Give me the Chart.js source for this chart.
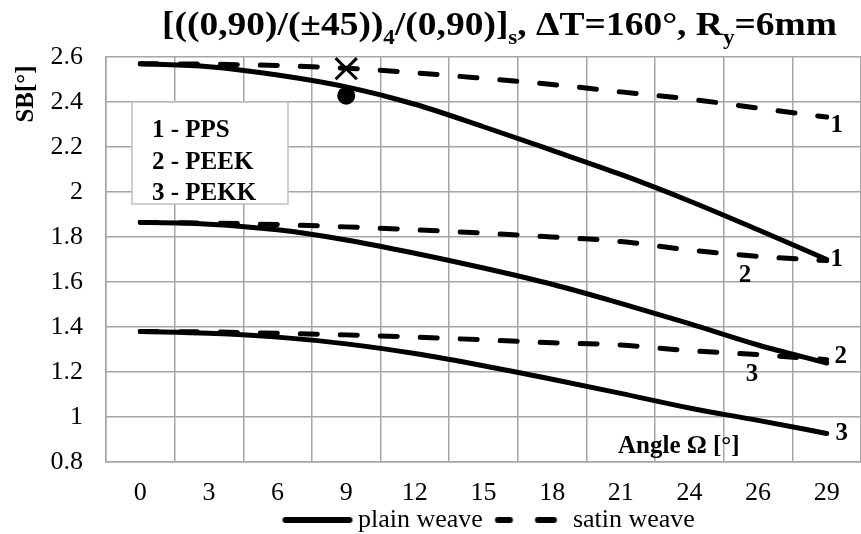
<!DOCTYPE html>
<html>
<head>
<meta charset="utf-8">
<script src="https://cdn.jsdelivr.net/npm/chart.js@4.4.1/dist/chart.umd.min.js"></script>
<style>
html,body{margin:0;padding:0;background:#fff;}
#wrap{width:861px;height:534px;position:relative;}
</style>
</head>
<body>
<div id="wrap"><canvas id="c" width="861" height="534"></canvas></div>
<script>
// ---- data ----
const categories = ['0','3','6','9','12','15','18','21','24','26','29'];
const plainPPS  = [2.57, 2.557, 2.52, 2.467, 2.39, 2.29, 2.185, 2.078, 1.96, 1.832, 1.70];
const satinPPS  = [2.57, 2.568, 2.562, 2.55, 2.53, 2.505, 2.478, 2.445, 2.413, 2.373, 2.333];
const plainPEEK = [1.865, 1.857, 1.832, 1.787, 1.728, 1.662, 1.59, 1.505, 1.415, 1.32, 1.24];
const satinPEEK = [1.865, 1.862, 1.855, 1.845, 1.832, 1.817, 1.80, 1.78, 1.742, 1.714, 1.695];
const plainPEKK = [1.38, 1.372, 1.355, 1.325, 1.282, 1.228, 1.168, 1.105, 1.04, 0.985, 0.927];
const satinPEKK = [1.38, 1.378, 1.372, 1.365, 1.355, 1.343, 1.33, 1.32, 1.295, 1.277, 1.255];
const crossMark = [null, null, null, 2.548, null, null, null, null, null, null, null];
const dotMark   = [null, null, null, 2.428, null, null, null, null, null, null, null];
const yTicks = {min: 0.8, max: 2.6, step: 0.2};
const seriesNames = ['plain weave', 'satin weave'];
const materialLabels = ['1 - PPS', '2 - PEEK', '3 - PEKK'];
const titleParts = [
  ['[((0,90)/(±45))', false], ['4', true], ['/(0,90)]', false], ['s', true],
  [', ΔT=160°, R', false], ['y', true], ['=6mm', false]
];
const yTitle = 'SB[°]';
const xTitle = 'Angle Ω [°]';
// curve end labels: [text, categoryIndex, value, dx, dy]
const curveLabels = [
  ['1', 10, 2.333, 10, 8],
  ['1', 10, 1.70, 10, 0],
  ['2', 9, 1.714, -13, 19],
  ['2', 10, 1.24, 14, -6],
  ['3', 9, 1.277, -6, 20],
  ['3', 10, 0.927, 15, 0]
];

const SERIF = '"Liberation Serif", "Times New Roman", serif';

function lineSample(dashed){
  const c = document.createElement('canvas');
  c.width = 80; c.height = 10;
  const g = c.getContext('2d');
  g.strokeStyle = '#000'; g.lineWidth = 6; g.lineCap = 'round';
  g.beginPath();
  if (!dashed) { g.moveTo(8, 5); g.lineTo(72, 5); }
  else { g.moveTo(5.5, 5); g.lineTo(17.5, 5); g.moveTo(45.5, 5); g.lineTo(61.5, 5); }
  g.stroke();
  return c;
}
const solidImg = lineSample(false);
const dashImg = lineSample(true);

function lineDs(label, data, dashed){
  return {
    label, data,
    borderColor: '#000', backgroundColor: '#000',
    borderWidth: 5,
    borderDash: dashed ? [17, 23] : [],
    borderCapStyle: 'round', borderJoinStyle: 'round',
    pointRadius: 0, pointHoverRadius: 0,
    cubicInterpolationMode: 'monotone',
    fill: false
  };
}

const annot = {
  id: 'annot',
  beforeLayout(chart){
    const lg = chart.legend;
    if (lg && !lg._patched) {
      const orig = lg.fit.bind(lg);
      lg.fit = function(){ orig(); this.height = 24; };
      lg._patched = true;
    }
  },
  afterLayout(chart){
    const lg = chart.legend;
    lg.left = 268;
    lg.top = 485;
  },
  beforeDatasetsDraw(chart){
    const ctx = chart.ctx;
    ctx.save();
    ctx.fillStyle = '#fff';
    ctx.strokeStyle = '#c0c0c0';
    ctx.lineWidth = 1.5;
    ctx.fillRect(132, 102, 156, 102);
    ctx.strokeRect(132, 102, 156, 102);
    ctx.fillStyle = '#000';
    ctx.font = 'bold 25px ' + SERIF;
    ctx.textBaseline = 'middle';
    ctx.textAlign = 'left';
    materialLabels.forEach((t, i) => ctx.fillText(t, 152, 131 + i * 31.5));
    ctx.restore();
  },
  afterDraw(chart){
    const ctx = chart.ctx;
    const xs = chart.scales.x, ys = chart.scales.y;
    ctx.save();
    ctx.fillStyle = '#000';
    // title with subscripts
    const mainF = 'bold 34px ' + SERIF, subF = 'bold 21px ' + SERIF;
    let w = 0;
    titleParts.forEach(([t, sub]) => { ctx.font = sub ? subF : mainF; w += ctx.measureText(t).width; });
    const targetW = 675, sx = targetW / w;
    ctx.save();
    ctx.translate(499.5 - targetW / 2, 0);
    ctx.scale(sx, 1);
    let x = 0;
    ctx.textBaseline = 'alphabetic';
    ctx.textAlign = 'left';
    titleParts.forEach(([t, sub]) => {
      ctx.font = sub ? subF : mainF;
      ctx.fillText(t, x, sub ? 44 : 35);
      x += ctx.measureText(t).width;
    });
    ctx.restore();
    // y title
    ctx.save();
    ctx.translate(27, 94);
    ctx.rotate(-Math.PI / 2);
    ctx.font = 'bold 25px ' + SERIF;
    ctx.textAlign = 'center';
    ctx.textBaseline = 'middle';
    ctx.fillText(yTitle, 0, 0);
    ctx.restore();
    // x title inside plot
    ctx.font = 'bold 25px ' + SERIF;
    ctx.textAlign = 'left';
    ctx.textBaseline = 'middle';
    ctx.fillText(xTitle, 618, 447);
    // curve labels
    ctx.textAlign = 'center';
    curveLabels.forEach(([t, i, v, dx, dy]) => {
      ctx.fillText(t, xs.getPixelForValue(i) + dx, ys.getPixelForValue(v) + dy);
    });
    ctx.restore();
  }
};

new Chart(document.getElementById('c'), {
  type: 'line',
  data: {
    labels: categories,
    datasets: [
      lineDs(seriesNames[0], plainPPS, false),
      lineDs(seriesNames[1], satinPPS, true),
      lineDs('plain PEEK', plainPEEK, false),
      lineDs('satin PEEK', satinPEEK, true),
      lineDs('plain PEKK', plainPEKK, false),
      lineDs('satin PEKK', satinPEKK, true),
      { label: 'x', data: crossMark, showLine: false, pointStyle: 'crossRot', pointRadius: 15, borderColor: '#000', borderWidth: 3, pointHoverRadius: 15 },
      { label: 'o', data: dotMark, showLine: false, pointStyle: 'circle', pointRadius: 9, backgroundColor: '#000', borderColor: '#000', borderWidth: 0, pointHoverRadius: 9 }
    ]
  },
  options: {
    responsive: false,
    animation: false,
    events: [],
    layout: { autoPadding: false, padding: { top: 57, left: 0, right: 0, bottom: 0 } },
    plugins: {
      title: { display: false },
      tooltip: { enabled: false },
      legend: {
        display: true,
        position: 'bottom',
        align: 'start',
        labels: {
          usePointStyle: true,
          pointStyleWidth: 55,
          padding: 22,
          color: '#000',
          font: { family: SERIF, size: 26 },
          generateLabels(){
            return [
              { text: seriesNames[0], pointStyle: solidImg, fillStyle: '#000', strokeStyle: '#000', lineWidth: 0, datasetIndex: 0 },
              { text: seriesNames[1], pointStyle: dashImg, fillStyle: '#000', strokeStyle: '#000', lineWidth: 0, datasetIndex: 1 }
            ];
          }
        }
      }
    },
    scales: {
      x: {
        type: 'category',
        offset: true,
        grid: { offset: true, color: '#a6a6a6', lineWidth: 1.5, drawTicks: true, tickLength: 16, tickColor: 'rgba(0,0,0,0)' },
        border: { color: '#a6a6a6', width: 1.5 },
        ticks: { color: '#000', font: { family: SERIF, size: 26 }, padding: 0, maxRotation: 0, autoSkip: false },
        afterFit(s){ s.height = Math.max(0, 72 - s.chart.legend.height); }
      },
      y: {
        min: yTicks.min, max: yTicks.max,
        grid: { color: '#a6a6a6', lineWidth: 1.5, drawTicks: false },
        border: { color: '#a6a6a6', width: 1.5 },
        ticks: {
          stepSize: yTicks.step,
          color: '#000',
          font: { family: SERIF, size: 26 },
          padding: 23,
          callback: v => String(Math.round(v * 10) / 10)
        },
        afterFit(s){ s.width = 106; }
      }
    }
  },
  plugins: [annot]
});
</script>
</body>
</html>
